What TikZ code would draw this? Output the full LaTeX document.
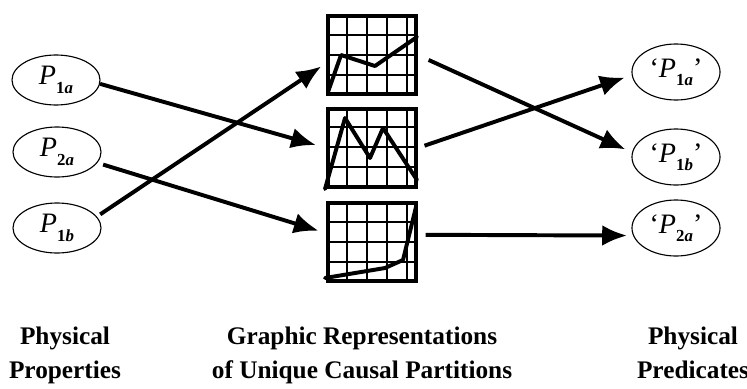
\documentclass[tikz,border=0pt]{standalone}
\usepackage{fontspec}
\setmainfont{Liberation Serif}
\usetikzlibrary{shapes.geometric,arrows.meta}

\begin{document}
\begin{tikzpicture}[
        x=0.025cm,
        y=-0.025cm,
        prop/.style={ellipse, draw, line width=0.8pt, minimum width=2.2cm, minimum height=1.25cm, inner sep=0pt, font=\fontsize{20}{20}\selectfont},
        pred/.style={prop, minimum height=1.4cm},
        gridbox/.style={draw, line width=2.4pt, minimum width=2.2cm, minimum height=1.95cm, inner sep=0pt},
        gridline/.style={line width=1.8pt},
        curve/.style={line width=2.8pt, line join=round, line cap=round},
        link/.style={line width=2.8pt, -{Latex[length=0.62cm, width=0.52cm]}},
        caption/.style={align=center, font=\bfseries\fontsize{18}{24}\selectfont}
    ]
    \def\sub#1{\raisebox{-0.3em}{\fontsize{12}{12}\selectfont\bfseries #1}}

    \useasboundingbox (0,0) rectangle (747,388);

    % physical properties
    \node[prop] (p1a) at (56,80) {\textit{P}\sub{1\textit{a}}};
    \node[prop] (p2a) at (57,152) {\textit{P}\sub{2\textit{a}}};
    \node[prop] (p1b) at (57,228) {\textit{P}\sub{1\textit{b}}};

    % graphic representations
    \node[gridbox] (g1) at (372,55) {};
    \node[gridbox] (g2) at (372,148) {};
    \node[gridbox] (g3) at (372,242) {};
    \foreach \top in {15,107,202} {
        \foreach \gx in {347,367,387,407}
            \draw[gridline] (\gx,\top) -- (\gx,\top+80);
        \foreach \gy in {20,40,60}
            \draw[gridline] (327,\top+\gy) -- (418,\top+\gy);
    }
    \draw[curve] (328,92) -- (341,55) -- (375,66) -- (417,37);
    \draw[curve] (325,189) -- (345,118) -- (370,158) -- (383,128) -- (417,180);
    \draw[curve] (325,278) -- (385,268) -- (403,260) -- (416,207);

    % physical predicates
    \node[pred] (q1a) at (676,72) {‘\textit{P}\sub{1\textit{a}}’};
    \node[pred] (q1b) at (676,157) {‘\textit{P}\sub{1\textit{b}}’};
    \node[pred] (q2a) at (676,228) {‘\textit{P}\sub{2\textit{a}}’};

    \draw[link, shorten >=0.27cm] (p1a.-5) -- (g2.west);
    \draw[link, shorten <=0.15cm, shorten >=0.2cm] (p2a.-15) -- (g3.169);
    \draw[link, shorten <=0.1cm, shorten >=0.15cm] (p1b.16) -- (g1.190);
    \draw[link, shorten <=0.3cm, shorten >=0.18cm] (g1.east) -- (q1b.174);
    \draw[link, shorten <=0.18cm, shorten >=0.18cm] (g2.east) -- (q1a.184);
    \draw[link, shorten <=0.2cm, shorten >=0.15cm] (g3.9) -- (q2a.190);

    \node[caption, anchor=base] (c1) at (65,378) {Physical\\Properties};
    \node[caption, anchor=base] (c2) at (362,378) {Graphic Representations\\of Unique Causal Partitions};
    \node[caption, anchor=base] (c3) at (693,378) {Physical\\Predicates};
\end{tikzpicture}
\end{document}
